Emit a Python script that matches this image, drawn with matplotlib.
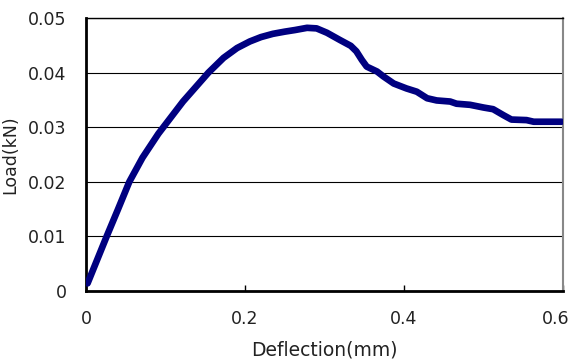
import matplotlib
matplotlib.use("Agg")
import matplotlib.pyplot as plt
import matplotlib.transforms as mtransforms

# deflection (mm) / load (kN)
deflection = [0.002, 0.026, 0.0398, 0.0545, 0.071, 0.091, 0.122, 0.154,
              0.173, 0.19, 0.206, 0.22, 0.235, 0.25, 0.263, 0.278, 0.29, 0.303,
              0.319, 0.333, 0.34, 0.347, 0.353, 0.366, 0.374, 0.387, 0.403, 0.416,
              0.429, 0.441, 0.458, 0.466, 0.483, 0.5, 0.512, 0.525, 0.535, 0.554,
              0.563, 0.598]
load = [0.0014, 0.010, 0.0148, 0.020, 0.0244, 0.0288, 0.0347, 0.040,
        0.0427, 0.0445, 0.0457, 0.0465, 0.0471, 0.0475, 0.0478, 0.0482, 0.0481, 0.0473,
        0.046, 0.0449, 0.0439, 0.0423, 0.0411, 0.0402, 0.0393, 0.038, 0.0371, 0.0365,
        0.0353, 0.0349, 0.0347, 0.0343, 0.0341, 0.0336, 0.0333, 0.0322, 0.0314, 0.0313,
        0.031, 0.031]

x_ticks = [0, 0.2, 0.4, 0.6]
x_labels = ["0", "0.2", "0.4", "0.6"]
y_ticks = [0, 0.01, 0.02, 0.03, 0.04, 0.05]
y_labels = ["0", "0.01", "0.02", "0.03", "0.04", "0.05"]

fig = plt.figure(figsize=(5.74, 3.6), dpi=100)
ax = fig.add_axes([0.1498, 0.1917, 0.8312, 0.7583])

ax.plot(deflection, load, color="#000080", lw=4.8,
        solid_joinstyle="round", solid_capstyle="round", zorder=3)

ax.set_xlim(0, 0.6)
ax.set_ylim(0, 0.05)
ax.set_xticks(x_ticks)
ax.set_xticklabels(x_labels)
ax.set_yticks(y_ticks)
ax.set_yticklabels(y_labels)
ax.yaxis.grid(True, color="black", lw=0.8)
ax.set_axisbelow(True)

ax.tick_params(axis="x", direction="in", length=4, width=1, pad=14,
               labelsize=12.5, labelcolor="#222222")
ax.tick_params(axis="y", length=0, pad=14, labelsize=12.5, labelcolor="#222222")

# last x label sits a bit inside the figure edge, as in the original
last = ax.get_xticklabels()[-1]
last.set_transform(last.get_transform() +
                   mtransforms.ScaledTranslation(-7 / 100, 0, fig.dpi_scale_trans))

for s in ["left", "bottom"]:
    ax.spines[s].set_linewidth(2)
    ax.spines[s].set_color("black")
ax.spines["top"].set_linewidth(1)
ax.spines["right"].set_color("#888888")
ax.spines["right"].set_linewidth(1.5)

ax.set_xlabel("Deflection(mm)", fontsize=13.5, color="#222222", labelpad=9)
ax.set_ylabel("Load(kN)", fontsize=12.5, color="#222222", labelpad=0)
ax.yaxis.set_label_coords(-0.14, 0.5)

fig.savefig("out.png", dpi=100)
